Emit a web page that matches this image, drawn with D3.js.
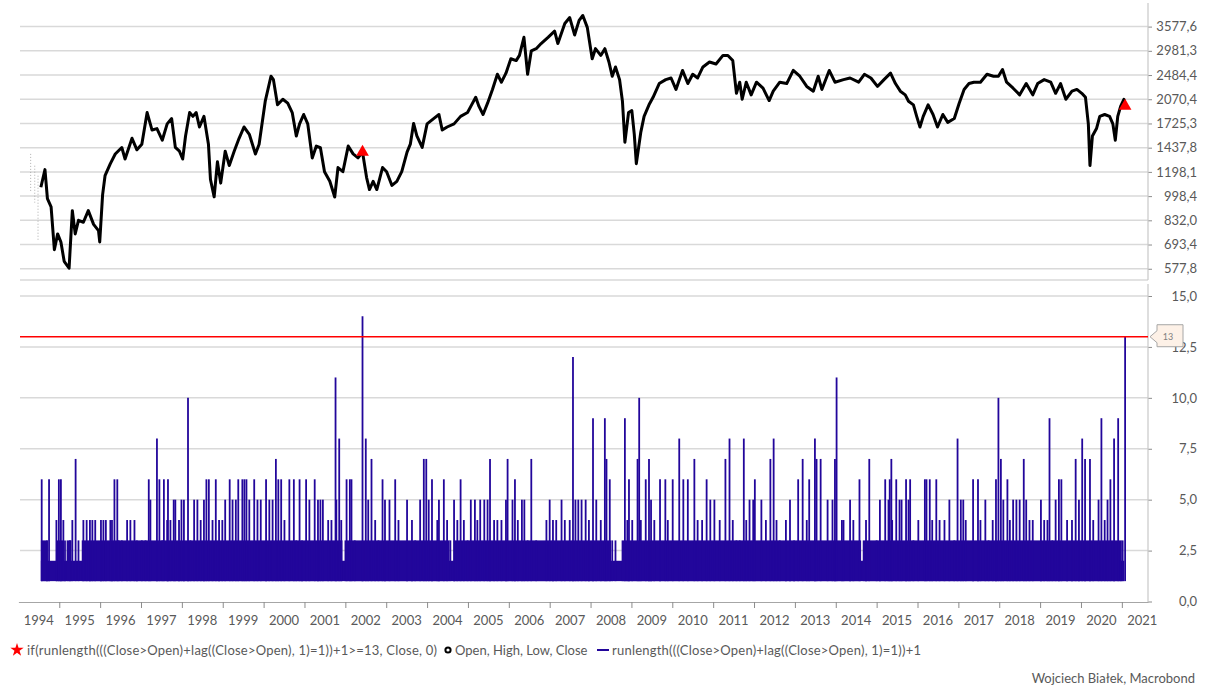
<!doctype html>
<html>
<head>
<meta charset="utf-8">
<style>
  body { margin: 0; background: #fff; }
  svg text { font-family: Lato, "Open Sans", sans-serif; fill: #595959; }
</style>
</head>
<body>
<svg id="chart" width="1206" height="688"></svg>
<script src="https://cdnjs.cloudflare.com/ajax/libs/d3/7.8.5/d3.min.js"></script>
<script>
  // ---- data ----
  // close (index level), [decimal year, value]
  var closeSeries = [
    [1994.55,1067],[1994.65,1219],[1994.71,979],[1994.8,921],[1994.88,667],[1994.96,751],
    [1995.04,707],[1995.12,611],[1995.24,580],[1995.32,895],[1995.39,751],[1995.47,832],
    [1995.59,820],[1995.71,895],[1995.84,807],[1995.96,770],[1995.99,707],[1996.06,1008],
    [1996.12,1164],[1996.25,1275],[1996.37,1371],[1996.53,1440],[1996.61,1320],[1996.78,1543],
    [1996.9,1415],[1997.02,1476],[1997.15,1873],[1997.27,1642],[1997.39,1660],[1997.52,1521],
    [1997.64,1720],[1997.75,1790],[1997.84,1441],[1997.94,1400],[1998.02,1320],[1998.09,1570],
    [1998.19,1873],[1998.27,1820],[1998.35,1873],[1998.43,1680],[1998.54,1820],[1998.65,1476],
    [1998.7,1131],[1998.79,993],[1998.87,1293],[1998.95,1101],[1999.06,1400],[1999.16,1257],
    [1999.28,1400],[1999.4,1543],[1999.52,1680],[1999.65,1590],[1999.8,1371],[1999.89,1476],
    [2000.04,2040],[2000.18,2462],[2000.24,2400],[2000.34,1985],[2000.47,2070],[2000.59,2010],
    [2000.7,1873],[2000.8,1570],[2000.88,1720],[2000.98,1846],[2001.08,1720],[2001.19,1331],
    [2001.29,1455],[2001.39,1437],[2001.49,1200],[2001.62,1116],[2001.74,992],[2001.82,1238],
    [2001.94,1200],[2002.07,1455],[2002.19,1372],[2002.31,1331],[2002.42,1391],[2002.52,1148],
    [2002.59,1049],[2002.68,1116],[2002.77,1049],[2002.91,1238],[2003.01,1200],[2003.14,1082],
    [2003.26,1116],[2003.38,1200],[2003.51,1390],[2003.59,1476],[2003.67,1725],[2003.75,1570],
    [2003.88,1441],[2004.0,1720],[2004.16,1790],[2004.29,1846],[2004.37,1642],[2004.49,1680],
    [2004.66,1720],[2004.82,1820],[2004.99,1873],[2005.07,1962],[2005.19,2101],[2005.27,1962],
    [2005.37,1846],[2005.48,2010],[2005.6,2229],[2005.72,2499],[2005.82,2354],[2005.93,2520],
    [2006.05,2809],[2006.18,2770],[2006.26,2880],[2006.37,3300],[2006.46,2499],[2006.55,2981],
    [2006.67,3030],[2006.79,3150],[2006.96,3300],[2007.12,3456],[2007.2,3150],[2007.37,3662],
    [2007.49,3829],[2007.61,3360],[2007.72,3750],[2007.81,3890],[2007.92,3557],[2008.04,2809],
    [2008.12,3030],[2008.25,2880],[2008.35,3030],[2008.45,2740],[2008.53,2462],[2008.61,2640],
    [2008.71,2400],[2008.78,2040],[2008.84,1498],[2008.93,1873],[2009.01,1900],[2009.07,1590],
    [2009.12,1275],[2009.23,1617],[2009.31,1820],[2009.43,1985],[2009.53,2101],[2009.68,2330],
    [2009.84,2400],[2009.97,2430],[2010.09,2229],[2010.25,2572],[2010.38,2330],[2010.5,2499],
    [2010.62,2430],[2010.75,2640],[2010.91,2740],[2011.07,2700],[2011.24,2880],[2011.36,2880],
    [2011.48,2770],[2011.57,2165],[2011.65,2354],[2011.71,2070],[2011.81,2354],[2011.93,2140],
    [2012.06,2354],[2012.22,2250],[2012.37,2050],[2012.47,2200],[2012.63,2354],[2012.8,2330],
    [2012.96,2572],[2013.12,2462],[2013.29,2280],[2013.45,2200],[2013.57,2462],[2013.66,2229],
    [2013.84,2572],[2013.98,2354],[2014.19,2400],[2014.35,2430],[2014.56,2354],[2014.7,2499],
    [2014.86,2430],[2015.02,2280],[2015.18,2400],[2015.34,2520],[2015.46,2330],[2015.58,2200],
    [2015.7,2140],[2015.78,2040],[2015.9,1985],[2015.98,1820],[2016.06,1680],[2016.14,1820],
    [2016.26,1985],[2016.38,1846],[2016.49,1680],[2016.62,1846],[2016.74,1740],[2016.9,1790],
    [2017.02,2010],[2017.14,2229],[2017.26,2330],[2017.38,2354],[2017.54,2354],[2017.7,2499],
    [2017.86,2462],[2017.98,2462],[2018.08,2590],[2018.18,2354],[2018.34,2250],[2018.5,2140],
    [2018.66,2330],[2018.82,2140],[2018.94,2330],[2019.1,2400],[2019.26,2354],[2019.38,2165],
    [2019.5,2330],[2019.63,2070],[2019.78,2200],[2019.9,2229],[2020.02,2165],[2020.11,2101],
    [2020.18,1720],[2020.22,1257],[2020.28,1570],[2020.38,1660],[2020.46,1820],[2020.58,1846],
    [2020.7,1820],[2020.78,1720],[2020.84,1521],[2020.9,1820],[2020.97,1962],[2021.05,2070],
    [2021.08,1990]
  ]

  // faint OHLC bars before the close series starts: [year, high, low]
  var ohlcBars = [[1994.3,1372,1037],[1994.4,1255,951],[1994.48,1164,718]]

  // signal: run length >= 13 -> close
  var signalDates = [2002.42, 2021.08]
  var signalValues = [1391, 1968]

  // run length peaks: [year, run length]
  var runSpikes = [
    [1994.57,6],[1994.7,3],[1994.75,6],[1994.93,4],[1994.99,6],[1995.04,6],[1995.1,4],[1995.14,3],
    [1995.26,3],[1995.32,4],[1995.4,7],[1995.47,3],[1995.59,4],[1995.67,4],[1995.75,4],[1995.81,4],
    [1995.88,4],[1996.02,4],[1996.08,4],[1996.14,4],[1996.25,4],[1996.29,4],[1996.35,6],[1996.42,6],
    [1996.45,3],[1996.53,3],[1996.66,4],[1996.74,4],[1996.84,4],[1996.9,3],[1997.02,3],[1997.11,3],
    [1997.19,6],[1997.23,5],[1997.39,8],[1997.45,6],[1997.52,3],[1997.56,6],[1997.64,4],[1997.66,6],
    [1997.72,4],[1997.8,5],[1997.84,5],[1997.93,4],[1997.99,5],[1998.05,5],[1998.15,10],[1998.21,3],
    [1998.3,5],[1998.38,5],[1998.46,4],[1998.54,5],[1998.6,6],[1998.66,6],[1998.75,4],[1998.83,6],
    [1998.91,4],[1998.99,4],[1999.06,5],[1999.17,6],[1999.24,5],[1999.32,5],[1999.38,6],[1999.48,6],
    [1999.53,6],[1999.58,6],[1999.65,5],[1999.77,6],[1999.85,5],[1999.93,5],[2000.06,6],[2000.14,5],
    [2000.22,5],[2000.3,7],[2000.36,6],[2000.43,6],[2000.51,4],[2000.63,6],[2000.74,6],[2000.8,3],
    [2000.88,6],[2000.94,3],[2001.04,6],[2001.12,5],[2001.25,6],[2001.33,5],[2001.39,5],[2001.45,5],
    [2001.58,4],[2001.66,4],[2001.76,11],[2001.78,5],[2001.85,8],[2001.9,4],[2002.03,6],[2002.11,6],
    [2002.15,6],[2002.23,3],[2002.42,14],[2002.5,8],[2002.56,5],[2002.64,7],[2002.73,4],[2002.81,3],
    [2002.91,6],[2002.97,5],[2003.08,5],[2003.22,6],[2003.3,4],[2003.51,5],[2003.63,4],[2003.71,3],
    [2003.83,5],[2003.92,7],[2003.98,7],[2004.04,5],[2004.12,6],[2004.25,4],[2004.29,5],[2004.41,6],
    [2004.49,4],[2004.57,3],[2004.66,5],[2004.74,4],[2004.82,6],[2004.9,4],[2004.99,3],[2005.07,5],
    [2005.17,5],[2005.23,4],[2005.3,5],[2005.4,5],[2005.48,5],[2005.54,7],[2005.64,4],[2005.72,4],
    [2005.82,4],[2005.93,5],[2005.97,7],[2006.09,5],[2006.15,6],[2006.22,4],[2006.32,5],[2006.38,5],
    [2006.46,3],[2006.55,7],[2006.67,3],[2006.92,4],[2007.0,5],[2007.08,4],[2007.16,4],[2007.29,5],
    [2007.37,4],[2007.49,4],[2007.57,12],[2007.63,5],[2007.7,5],[2007.78,5],[2007.88,5],[2007.96,4],
    [2008.06,9],[2008.14,5],[2008.25,4],[2008.35,9],[2008.39,7],[2008.47,6],[2008.53,3],[2008.61,3],
    [2008.84,9],[2008.9,4],[2008.94,6],[2009.02,4],[2009.15,7],[2009.19,10],[2009.23,4],[2009.35,6],
    [2009.43,7],[2009.48,5],[2009.56,4],[2009.7,6],[2009.83,6],[2009.89,4],[2010.01,6],[2010.17,8],
    [2010.27,6],[2010.38,6],[2010.54,7],[2010.62,4],[2010.73,4],[2010.84,6],[2010.93,5],[2011.03,5],
    [2011.16,4],[2011.3,7],[2011.4,8],[2011.48,4],[2011.57,3],[2011.65,3],[2011.75,8],[2011.81,4],
    [2011.89,5],[2011.98,5],[2012.02,6],[2012.18,5],[2012.29,4],[2012.4,7],[2012.48,8],[2012.55,4],
    [2012.63,3],[2012.78,4],[2012.88,5],[2012.98,3],[2013.08,6],[2013.19,7],[2013.29,4],[2013.35,6],
    [2013.49,8],[2013.53,7],[2013.63,7],[2013.8,5],[2013.92,5],[2013.98,7],[2014.02,11],[2014.15,4],
    [2014.19,4],[2014.35,5],[2014.43,4],[2014.58,6],[2014.74,4],[2014.82,7],[2015.0,3],[2015.08,5],
    [2015.21,6],[2015.29,5],[2015.32,6],[2015.36,7],[2015.38,4],[2015.48,6],[2015.56,5],[2015.61,5],
    [2015.72,6],[2015.78,5],[2015.82,6],[2015.9,3],[2016.02,4],[2016.18,6],[2016.22,6],[2016.3,6],
    [2016.36,4],[2016.46,6],[2016.54,4],[2016.66,4],[2016.78,5],[2016.9,3],[2016.98,8],[2017.06,5],
    [2017.12,5],[2017.18,4],[2017.36,6],[2017.48,6],[2017.54,4],[2017.66,5],[2017.74,3],[2017.84,4],
    [2017.92,6],[2017.98,10],[2018.04,7],[2018.1,5],[2018.2,6],[2018.26,4],[2018.34,5],[2018.42,5],
    [2018.5,5],[2018.6,7],[2018.66,5],[2018.74,4],[2018.82,4],[2019.02,5],[2019.1,4],[2019.18,4],
    [2019.23,9],[2019.3,3],[2019.38,5],[2019.46,6],[2019.52,6],[2019.66,4],[2019.78,4],[2019.87,7],
    [2019.95,5],[2020.03,8],[2020.1,7],[2020.22,7],[2020.3,4],[2020.43,5],[2020.5,9],[2020.58,4],
    [2020.65,5],[2020.72,6],[2020.81,8],[2020.91,9],[2020.97,2],[2021.02,3],[2021.08,13]
  ]

  // where the short runs fill the panel solid: [from, to, level]
  var runBands = [
    [1994.55,2021.06,2],
    [1994.55,1994.72,3],[1994.92,1995.1,3],[1995.18,1995.3,3],[1995.55,2001.93,3],
    [2001.98,2004.55,3],[2004.65,2008.5,3],[2008.76,2014.62,3],[2014.66,2021.0,3]
  ]

  var threshold = 13
  var topTicks = [577.8, 693.4, 832.0, 998.4, 1198.1, 1437.8, 1725.3, 2070.4, 2484.4, 2981.3, 3577.6]
  var bottomTicks = [0, 2.5, 5, 7.5, 10, 12.5, 15]
  var yearLabels = d3.range(1994, 2022)
  var yearTicks = d3.range(1995, 2022)

  // ---- layout ----
  var left = 20, right = 1148
  var svg = d3.select('#chart')

  var x = d3.scaleLinear().domain([1994, 2021.64]).range([18.4, right])
  var yTop = d3.scaleLog().domain([577.8, 3577.6]).range([268.75, 26.6])
  var yBot = d3.scaleLinear().domain([0, 15]).range([601.5, 296])

  var fmt = d => d3.format('.1f')(d).replace('.', ',')
  var gridColor = '#d9d9d9'
  var blue = '#22069b'

  // gridlines
  svg.append('g').selectAll('line')
    .data(topTicks)
    .join('line')
    .attr('x1', left).attr('x2', right)
    .attr('y1', d => yTop(d)).attr('y2', d => yTop(d))
    .attr('stroke', gridColor).attr('stroke-width', 1.5)

  svg.append('line')
    .attr('x1', left).attr('x2', right).attr('y1', 280).attr('y2', 280)
    .attr('stroke', gridColor).attr('stroke-width', 1.5)

  svg.append('g').selectAll('line')
    .data(bottomTicks.filter(d => d > 0))
    .join('line')
    .attr('x1', left).attr('x2', right)
    .attr('y1', d => yBot(d)).attr('y2', d => yBot(d))
    .attr('stroke', gridColor).attr('stroke-width', 1.5)

  // right axes
  function styleAxis(g) {
    g.attr('font-family', null).attr('font-size', null)
    g.select('.domain').remove()
    g.selectAll('.tick line').attr('stroke', '#8c8c8c')
    g.selectAll('.tick text')
      .attr('x', 49).attr('text-anchor', 'end')
      .style('font-size', '13px')
  }

  svg.append('g')
    .attr('transform', `translate(${right},0)`)
    .call(d3.axisRight(yTop).tickValues(topTicks).tickFormat(fmt).tickSize(4))
    .call(styleAxis)

  svg.append('g')
    .attr('transform', `translate(${right},0)`)
    .call(d3.axisRight(yBot).tickValues(bottomTicks).tickFormat(fmt).tickSize(4))
    .call(styleAxis)

  svg.append('line')
    .attr('x1', right).attr('x2', right).attr('y1', 3).attr('y2', 280)
    .attr('stroke', '#c8c8c8').attr('stroke-width', 1.2)
  svg.append('line')
    .attr('x1', right).attr('x2', right).attr('y1', 284).attr('y2', 602)
    .attr('stroke', '#c8c8c8').attr('stroke-width', 1.2)

  // bottom axis
  var xAxis = svg.append('g')
    .attr('transform', 'translate(0,602)')
    .call(d3.axisBottom(x).tickValues(yearTicks).tickFormat('').tickSize(6).tickSizeOuter(0))
  xAxis.select('.domain').attr('stroke', '#a6a6a6').attr('stroke-width', 1.2)
  xAxis.selectAll('.tick line').attr('stroke', '#8c8c8c')

  svg.append('g').selectAll('text')
    .data(yearLabels)
    .join('text')
    .attr('x', d => x(d + 0.5))
    .attr('y', 625)
    .attr('text-anchor', 'middle')
    .style('font-size', '13px')
    .text(d => d)

  // faint OHLC bars
  svg.append('g').selectAll('line')
    .data(ohlcBars)
    .join('line')
    .attr('x1', d => x(d[0])).attr('x2', d => x(d[0]))
    .attr('y1', d => yTop(d[1])).attr('y2', d => yTop(d[2]))
    .attr('stroke', '#9a9a9a').attr('stroke-width', 0.8)
    .attr('stroke-dasharray', '1,2')

  // close line
  var line = d3.line().x(d => x(d[0])).y(d => yTop(d[1]))
  svg.append('path')
    .datum(closeSeries)
    .attr('d', line)
    .attr('fill', 'none')
    .attr('stroke', '#000')
    .attr('stroke-width', 3)
    .attr('stroke-linejoin', 'round')

  // signal triangles
  svg.append('g').selectAll('path')
    .data(signalDates)
    .join('path')
    .attr('d', d3.symbol(d3.symbolTriangle, 70))
    .attr('transform', (d, i) => `translate(${x(d)},${yTop(signalValues[i])})`)
    .attr('fill', '#ff0000')

  // run length bands and spikes
  svg.append('g').selectAll('rect')
    .data(runBands)
    .join('rect')
    .attr('x', d => x(d[0]))
    .attr('width', d => x(d[1]) - x(d[0]))
    .attr('y', d => yBot(d[2]))
    .attr('height', d => yBot(1) - yBot(d[2]))
    .attr('fill', blue)

  svg.append('g').selectAll('line')
    .data(runSpikes)
    .join('line')
    .attr('x1', d => x(d[0])).attr('x2', d => x(d[0]))
    .attr('y1', yBot(1)).attr('y2', d => yBot(d[1]))
    .attr('stroke', blue).attr('stroke-width', 1.8)

  // threshold line and its label
  svg.append('line')
    .attr('x1', left).attr('x2', right)
    .attr('y1', yBot(threshold)).attr('y2', yBot(threshold))
    .attr('stroke', '#ff0000').attr('stroke-width', 1.3)

  var ty = yBot(threshold)
  svg.append('path')
    .attr('d', `M${right + 2},${ty} L${right + 9},${ty - 6} L${right + 9},${ty - 12} L${right + 35},${ty - 12} L${right + 35},${ty + 10} L${right + 9},${ty + 10} L${right + 9},${ty + 6} Z`)
    .attr('fill', '#fdf1e7').attr('stroke', '#a6a6a6').attr('stroke-width', 1)
  svg.append('text')
    .attr('x', right + 20).attr('y', ty + 3)
    .attr('text-anchor', 'middle')
    .style('font-size', '9px').style('fill', '#7f7f7f')
    .text(threshold)

  // legend
  var ly = 650
  svg.append('path')
    .attr('d', d3.symbol(d3.symbolStar, 55))
    .attr('transform', `translate(17,${ly})`)
    .attr('fill', '#ff0000')
  svg.append('text').attr('x', 27).attr('y', ly + 4.5).style('font-size', '13px')
    .attr('textLength', 410)
    .text('if(runlength(((Close>Open)+lag((Close>Open), 1)=1))+1>=13, Close, 0)')

  svg.append('circle').attr('cx', 448).attr('cy', ly).attr('r', 2.6)
    .attr('fill', '#fff').attr('stroke', '#000').attr('stroke-width', 2)
  svg.append('text').attr('x', 455).attr('y', ly + 4.5).style('font-size', '13px')
    .text('Open, High, Low, Close')

  svg.append('line').attr('x1', 597).attr('x2', 609).attr('y1', ly).attr('y2', ly)
    .attr('stroke', blue).attr('stroke-width', 2)
  svg.append('text').attr('x', 612).attr('y', ly + 4.5).style('font-size', '13px')
    .attr('textLength', 309)
    .text('runlength(((Close>Open)+lag((Close>Open), 1)=1))+1')

  svg.append('text').attr('x', 1195).attr('y', 683).attr('text-anchor', 'end')
    .style('font-size', '13px')
    .text('Wojciech Białek, Macrobond')
</script>
</body>
</html>
